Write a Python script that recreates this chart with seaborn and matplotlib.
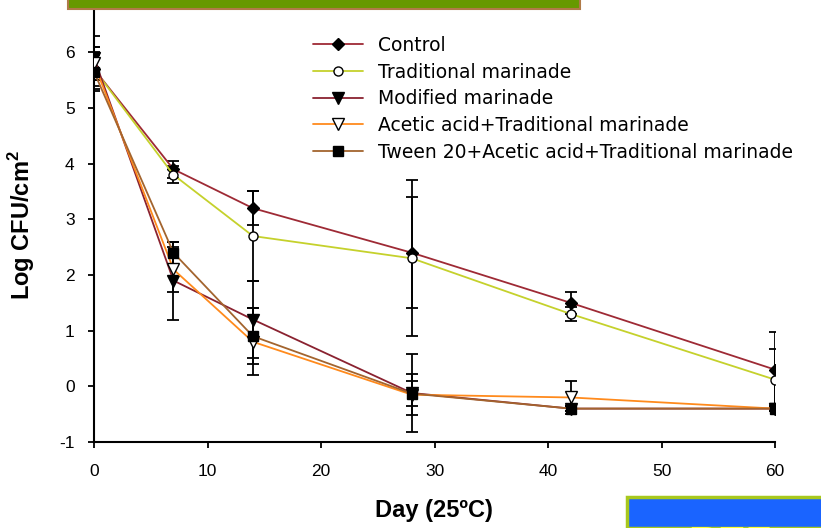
import matplotlib
matplotlib.use("Agg")
import matplotlib.pyplot as plt
import seaborn as sns
import pandas as pd
from matplotlib.patches import Rectangle

# ---------------- data ----------------
days = [0, 7, 14, 28, 42, 60]
series_names = ["Control", "Traditional marinade", "Modified marinade",
                "Acetic acid+Traditional marinade",
                "Tween 20+Acetic acid+Traditional marinade"]
control = [5.7, 3.9, 3.2, 2.4, 1.5, 0.3]
control_err = [0.4, 0.15, 0.3, 1.0, 0.2, 0.67]
traditional = [5.7, 3.8, 2.7, 2.3, 1.3, 0.12]
traditional_err = [0.3, 0.15, 0.8, 1.4, 0.12, 0.55]
modified = [5.9, 1.9, 1.2, -0.12, -0.4, -0.4]
modified_err = [0.4, 0.7, 0.7, 0.7, 0.05, 0.05]
acetic = [5.8, 2.1, 0.8, -0.15, -0.2, -0.4]
acetic_err = [0.3, 0.4, 0.6, 0.37, 0.3, 0.05]
tween = [5.65, 2.4, 0.9, -0.13, -0.4, -0.4]
tween_err = [0.3, 0.2, 0.5, 0.22, 0.05, 0.05]
x_ticks = [0, 10, 20, 30, 40, 50, 60]
y_ticks = [-1, 0, 1, 2, 3, 4, 5, 6]

values = [control, traditional, modified, acetic, tween]
errors = [control_err, traditional_err, modified_err, acetic_err, tween_err]
colors = ["#9E2A35", "#C5D12C", "#8A2230", "#FF8A1C", "#A3642E"]
markers = ["D", "o", "v", "v", "s"]
mfc = ["black", "white", "black", "white", "black"]
msizes = [6.5, 6.5, 8, 8, 7.5]

rows = []
for name, vals in zip(series_names, values):
    for d, v in zip(days, vals):
        rows.append({"Day": d, "Value": v, "Series": name})
df = pd.DataFrame(rows)

# ---------------- figure ----------------
sns.set_style("white")
plt.rcParams["font.family"] = ["Liberation Sans", "DejaVu Sans"]
plt.rcParams["mathtext.fontset"] = "custom"
plt.rcParams["mathtext.bf"] = "Liberation Sans:bold"
plt.rcParams["axes.unicode_minus"] = False
plt.rcParams["text.color"] = "black"
plt.rcParams["axes.labelcolor"] = "black"
fig = plt.figure(figsize=(8.21, 5.28), dpi=100)
ax = fig.add_axes([94 / 821, 86 / 528, (775 - 94) / 821, 442 / 528])

for i, name in enumerate(series_names):
    sub = df[df["Series"] == name]
    ax.errorbar(sub["Day"], sub["Value"], yerr=errors[i], fmt="none",
                ecolor="black", elinewidth=1.3, capsize=4, capthick=1.3,
                zorder=3)
for i, name in enumerate(series_names):
    sub = df[df["Series"] == name]
    sns.lineplot(data=sub, x="Day", y="Value", ax=ax, color=colors[i],
                 linewidth=1.3, marker=markers[i], markersize=msizes[i],
                 markerfacecolor=mfc[i], markeredgecolor="black",
                 markeredgewidth=1.0, label=name, zorder=4 + i * 0.1)

ax.set_xlim(0, 60)
ax.set_ylim(-1, 6.94)
ax.set_xticks(x_ticks)
ax.set_yticks(y_ticks)
for s in ["top", "right"]:
    ax.spines[s].set_visible(False)
for s in ["left", "bottom"]:
    ax.spines[s].set_color("black")
    ax.spines[s].set_linewidth(1.5)
ax.tick_params(axis="both", direction="out", length=4.5, width=1.3,
               colors="black", labelsize=12.5, left=True, bottom=True)
ax.tick_params(axis="y", pad=9.5)
ax.tick_params(axis="x", pad=11)

ax.set_xlabel("Day (25ºC)", fontsize=17, fontweight="bold", color="black")
ax.xaxis.set_label_coords(0.499, -0.128)
ax.set_ylabel(r"Log CFU/cm$^{\mathbf{2}}$", fontsize=17, fontweight="bold",
              color="black")
ax.yaxis.set_label_coords(-0.083, 0.49)

leg = ax.legend(loc="upper left", bbox_to_anchor=(313 / 821, 1 - 36 / 528),
                bbox_transform=fig.transFigure, frameon=False,
                prop={"family": "DejaVu Sans", "size": 13.5},
                handlelength=2.67, handletextpad=0.8, labelspacing=0.41,
                borderaxespad=0, borderpad=0)
for t in leg.get_texts():
    t.set_color("black")

# decorative elements from the source slide
fig.patches.append(Rectangle((68 / 821, 1 - 9 / 528), 512 / 821, 12 / 528,
                             transform=fig.transFigure, facecolor="#669900",
                             edgecolor="#B07A48", linewidth=1.5, zorder=10))
fig.patches.append(Rectangle((627 / 821, 0), 200 / 821, 31 / 528,
                             transform=fig.transFigure, facecolor="#1A64FF",
                             edgecolor="#A8C81E", linewidth=2.5, zorder=10))
fig.text(688 / 821, -28 / 528, "REF", color="#FFFF33", fontsize=30,
         fontweight="bold", zorder=11)

fig.savefig("out.png", dpi=100)
